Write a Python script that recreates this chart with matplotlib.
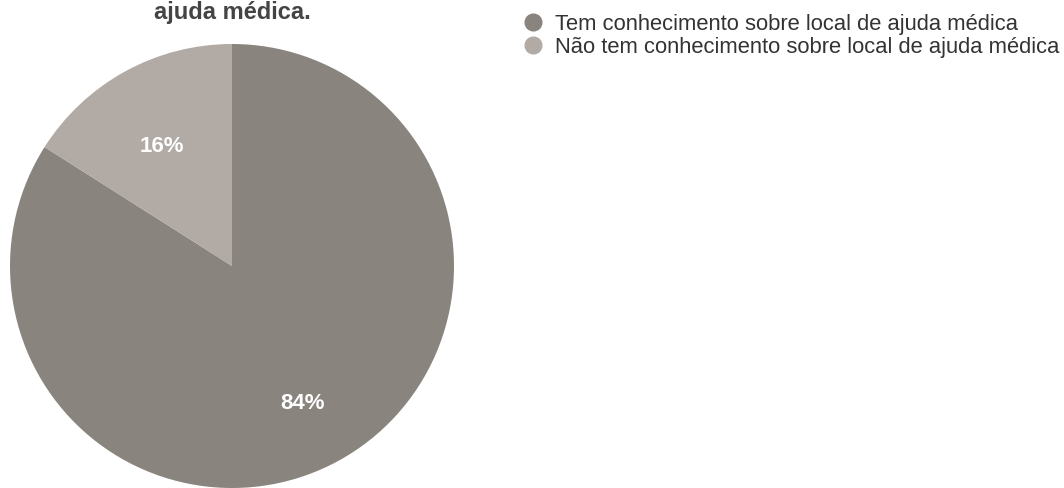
import matplotlib.pyplot as plt
from matplotlib.lines import Line2D

plt.rcParams['font.family'] = ['Liberation Sans', 'DejaVu Sans']

labels = ["Tem conhecimento sobre local de ajuda médica",
          "Não tem conhecimento sobre local de ajuda médica"]
values = [84, 16]
colors = ["#8a847f", "#b1aaa5"]

W, H = 1064, 488
fig = plt.figure(figsize=(W / 100, H / 100), dpi=100)

# pie axes: centre ~(232, 266) px from top, radius ~222 px
cx, cy, r = 232, 266, 222
ax = fig.add_axes([(cx - r) / W, (H - cy - r) / H, 2 * r / W, 2 * r / H])
wedges, texts, autotexts = ax.pie(values, colors=colors, startangle=90, counterclock=False,
                                  autopct="%d%%", pctdistance=0.66,
                                  wedgeprops=dict(linewidth=0),
                                  textprops=dict(color="white", fontsize=16, fontweight="bold"))
for t in autotexts:
    x, y = t.get_position()
    t.set_position((x, y - 0.04))
ax.set_xlim(-1, 1)
ax.set_ylim(-1, 1)
ax.set_aspect("equal")
ax.axis("off")

fig.text(cx / W, 1 - 1 / H, "ajuda médica.", ha="center", va="top",
         fontsize=17, fontweight="bold", color="#444444")

handles = [Line2D([], [], marker="o", linestyle="", markersize=12, color=c) for c in colors]
fig.legend(handles, labels, loc="upper left", bbox_to_anchor=(511 / W, 1 - 3 / H),
           frameon=False, fontsize=15.8, handletextpad=0.5, labelspacing=0.08,
           handlelength=1.0, borderpad=0, labelcolor="#333333")

fig.savefig("out.png", dpi=100)
